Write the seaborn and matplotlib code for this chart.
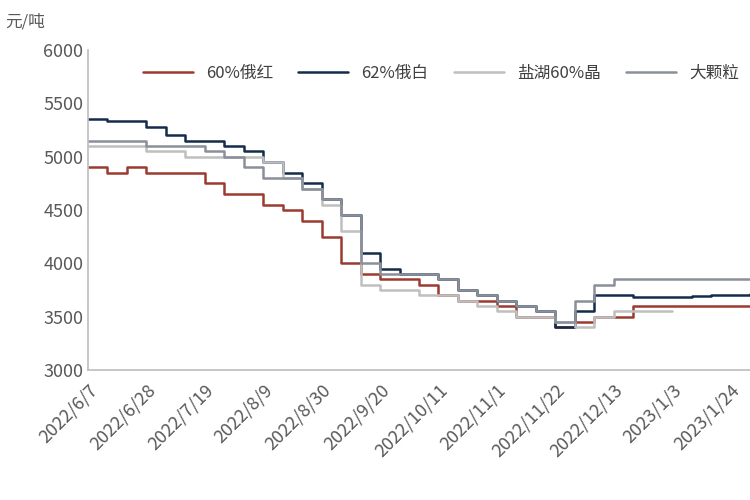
import matplotlib
matplotlib.use("Agg")
import matplotlib.pyplot as plt
import seaborn as sns
import pandas as pd
import numpy as np

sns.set_theme(style="white")
plt.rcParams['font.family'] = ['Noto Sans CJK SC', 'DejaVu Sans']

start = pd.Timestamp("2022-06-07")
weeks = pd.date_range(start, periods=36, freq="7D")

red = [4900,4850,4900,4850,4850,4850,4750,4650,4650,4550,4500,4400,4250,4000,3900,3850,3850,3800,3700,3650,3650,3600,3500,3500,3400,3450,3500,3500,3600,3600,3600,3600,3600,3600,3600,3600]
navy = [5350,5330,5330,5280,5200,5150,5150,5100,5050,4950,4850,4750,4600,4450,4100,3950,3900,3900,3850,3750,3700,3650,3600,3550,3400,3550,3700,3700,3680,3680,3680,3690,3700,3700,3710,3720]
light = [5100,5100,5100,5050,5050,5000,5000,5000,5000,4950,4800,4700,4550,4300,3800,3750,3750,3700,3700,3650,3600,3550,3500,3500,3450,3400,3500,3550,3550,3550,3550]
gray = [5150,5150,5150,5100,5100,5100,5050,5000,4900,4800,4800,4700,4600,4450,4000,3900,3900,3900,3850,3750,3700,3650,3600,3550,3450,3650,3800,3850,3850,3850,3850,3850,3850,3850,3850,3850]

names = ["60%俄红", "62%俄白", "盐湖60%晶", "大颗粒"]
colors = ["#9b3b30", "#132c4a", "#bfbfbf", "#8a8f99"]
series = [red, navy, light, gray]

fig = plt.figure(figsize=(7.5, 5), dpi=100)
ax = fig.add_axes([88/750, 130/500, 662/750, 320/500])
for n, c, v in zip(names, colors, series):
    df = pd.DataFrame({"date": weeks[:len(v)], "v": v})
    sns.lineplot(data=df, x="date", y="v", ax=ax, color=c, label=n, lw=1.8, drawstyle="steps-post")

ax.set_ylim(3000, 6000)
ax.set_yticks(range(3000, 6001, 500))
ax.set_xlim(start, start + pd.Timedelta(days=238))
ticks = pd.date_range(start, periods=12, freq="21D")
ax.set_xticks(ticks)
ax.set_xticklabels([f"{d.year}/{d.month}/{d.day}" for d in ticks], rotation=45, ha="right", rotation_mode="anchor")
ax.tick_params(axis="both", labelsize=13, colors="#595959", length=0)
ax.tick_params(axis="x", pad=8)
ax.set_xlabel(""); ax.set_ylabel("")
for s in ["top", "right"]:
    ax.spines[s].set_visible(False)
for s in ["left", "bottom"]:
    ax.spines[s].set_color("#bfbfbf")
ax.legend(loc="upper left", bbox_to_anchor=(0.06, 1.0), ncol=4, frameon=False, fontsize=12,
          handlelength=3, columnspacing=1.5, labelcolor="#404040")
fig.text(5/750, 1-22/500, "元/吨", fontsize=12, color="#595959", va="center")
fig.savefig("out.png")
